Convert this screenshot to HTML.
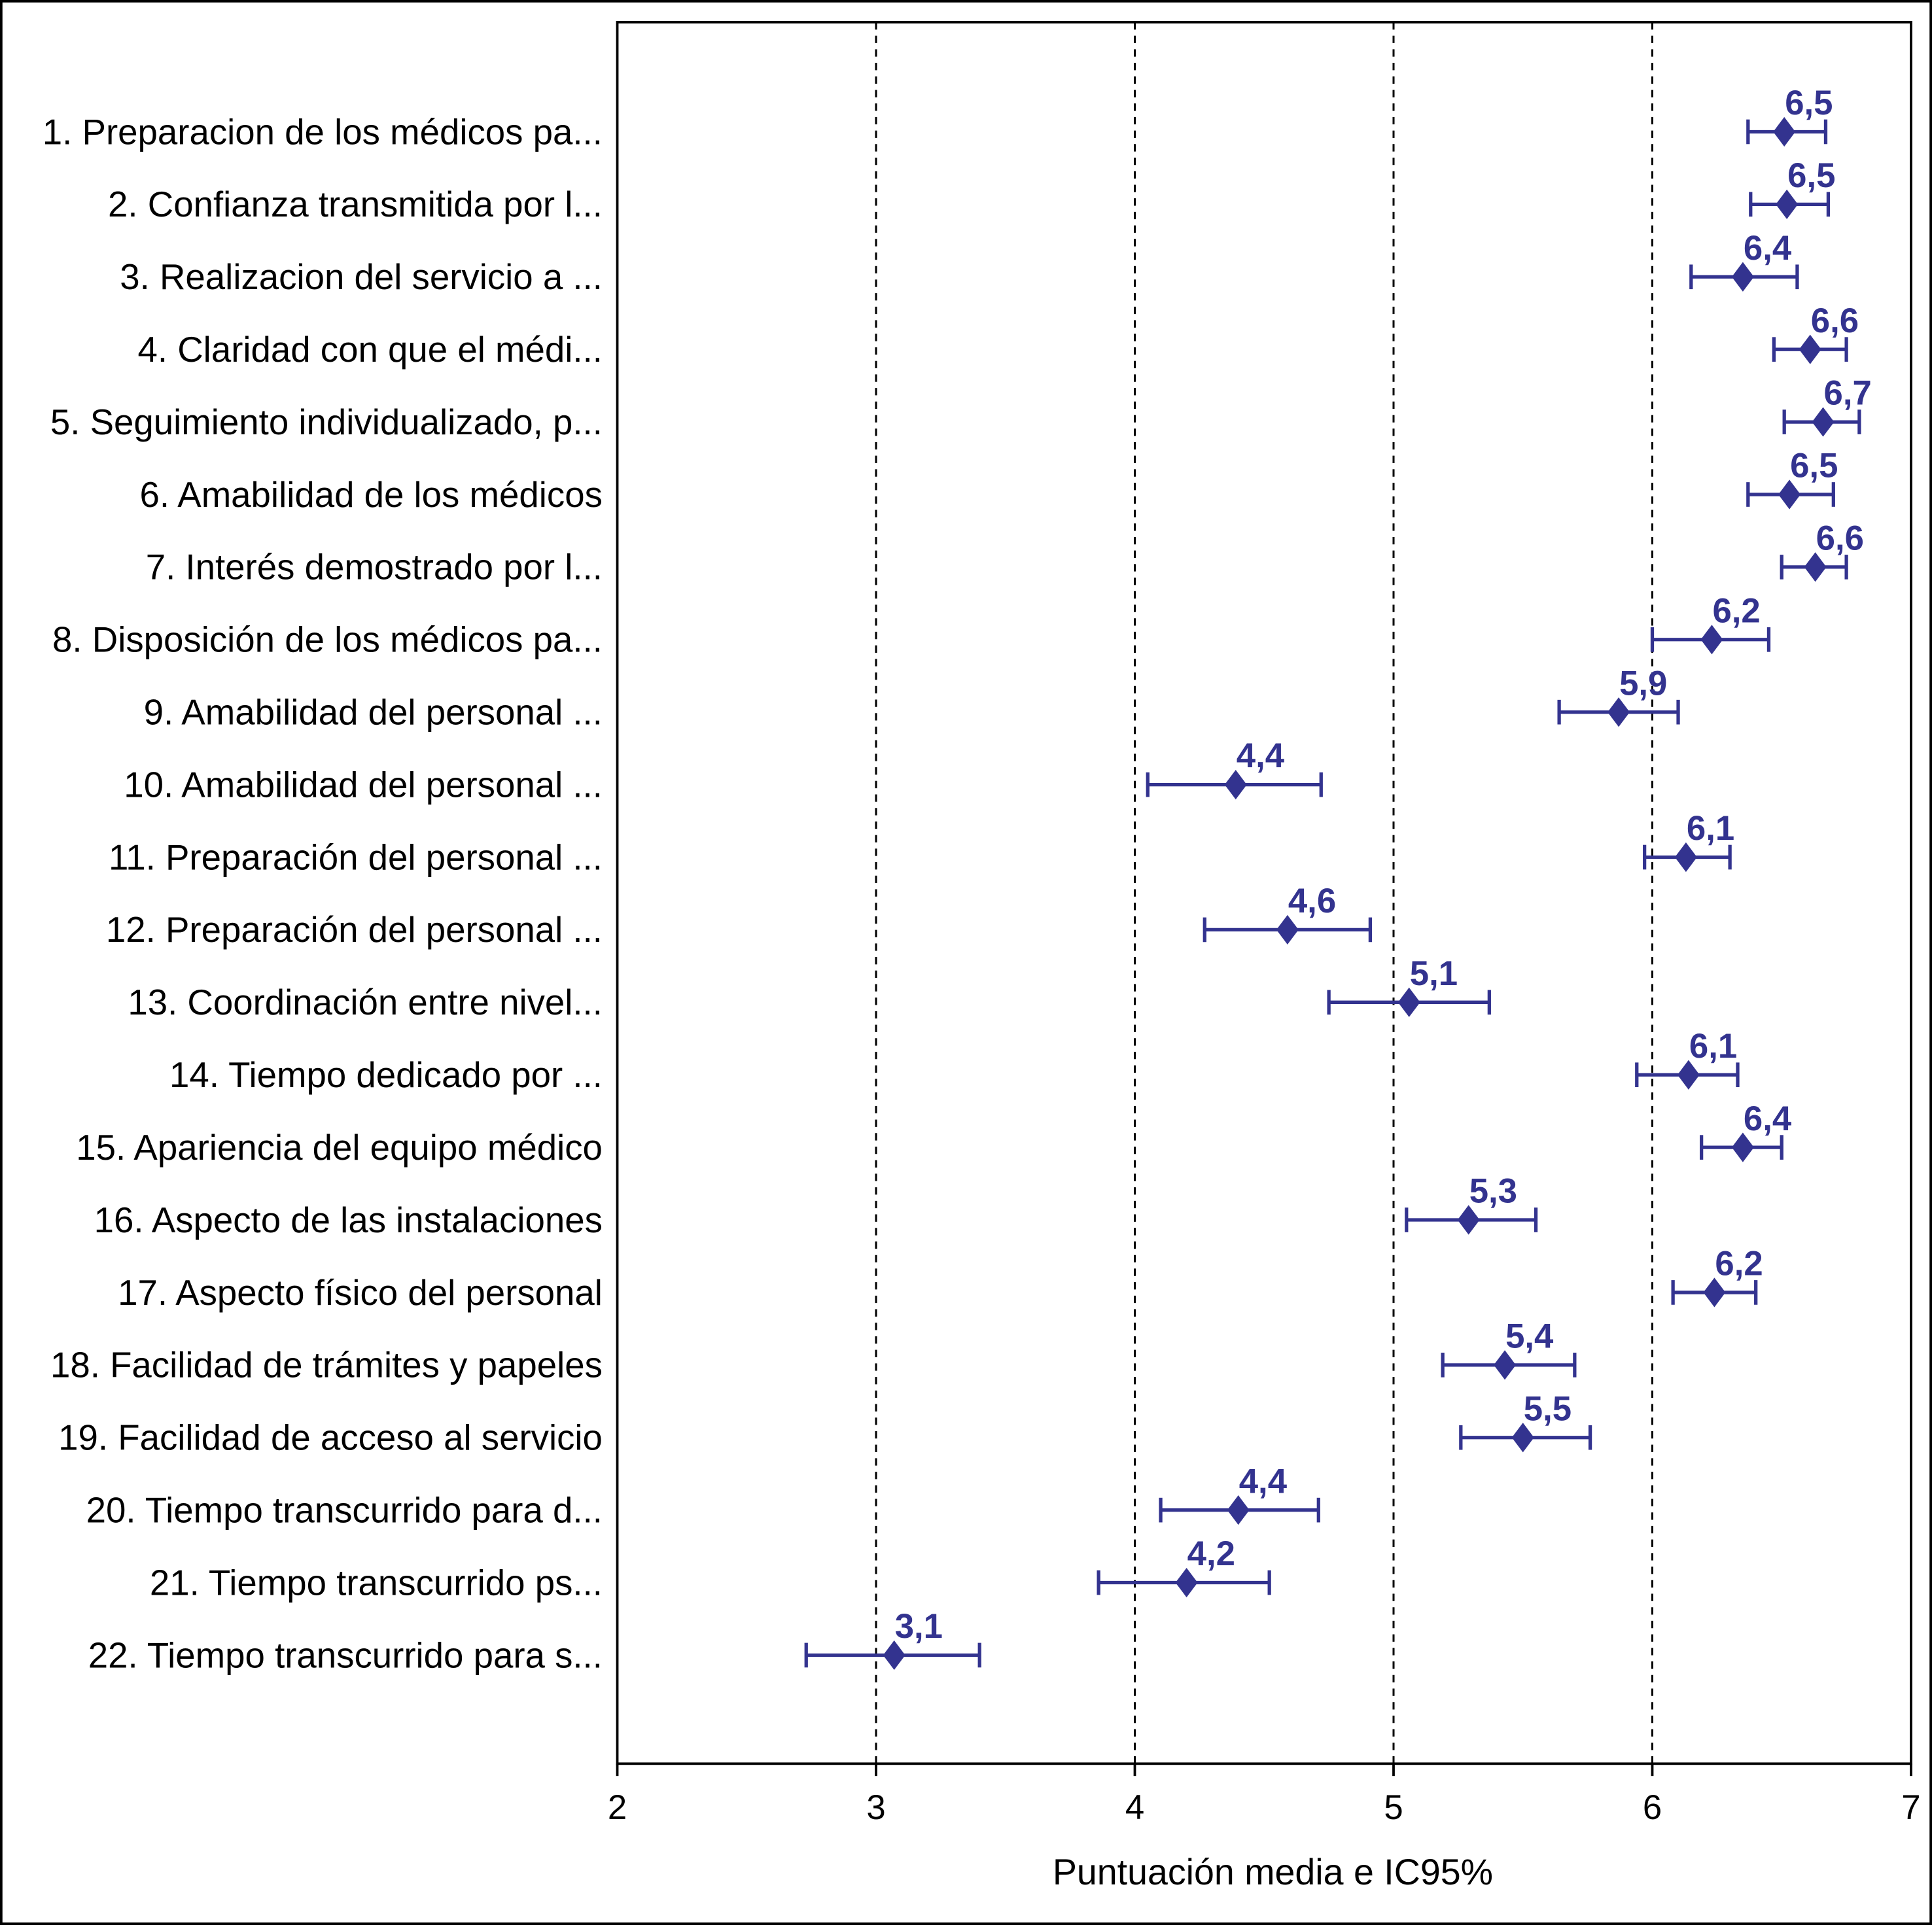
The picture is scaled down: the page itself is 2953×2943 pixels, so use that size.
<!DOCTYPE html>
<html><head><meta charset="utf-8"><style>
html,body{margin:0;padding:0;background:#fff}
svg{display:block}
text{font-family:"Liberation Sans",Arial,sans-serif}
</style></head><body>
<svg id="chart" width="2953" height="2943" viewBox="0 0 1568 1563" preserveAspectRatio="none" xmlns="http://www.w3.org/2000/svg">
<rect x="1" y="1" width="1566" height="1561" fill="#fff" stroke="#000" stroke-width="2"/>
<g id="grid"></g>
<g id="marks"></g>
<g id="labels"></g>
<rect x="501" y="18" width="1050" height="1414" fill="none" stroke="#000" stroke-width="2"/>
<g id="xaxis"></g>
<text x="1033" y="1530" font-size="29.5" text-anchor="middle" fill="#000">Puntuación media e IC95%</text>
</svg>
<script>
const categories=["1. Preparacion de los médicos pa...","2. Confianza transmitida por l...","3. Realizacion del servicio a ...","4. Claridad con que el médi...","5. Seguimiento individualizado, p...","6. Amabilidad de los médicos","7. Interés demostrado por l...","8. Disposición de los médicos pa...","9. Amabilidad del personal ...","10. Amabilidad del personal ...","11. Preparación del personal ...","12. Preparación del personal ...","13. Coordinación entre nivel...","14. Tiempo dedicado por ...","15. Apariencia del equipo médico","16. Aspecto de las instalaciones","17. Aspecto físico del personal","18. Facilidad de trámites y papeles","19. Facilidad de acceso al servicio","20. Tiempo transcurrido para d...","21. Tiempo transcurrido ps...","22. Tiempo transcurrido para s..."];
const means=[6.51,6.52,6.35,6.61,6.66,6.53,6.63,6.23,5.87,4.39,6.13,4.59,5.06,6.14,6.35,5.29,6.24,5.43,5.50,4.40,4.20,3.07];
const lower=[6.37,6.38,6.15,6.47,6.51,6.37,6.50,6.00,5.64,4.05,5.97,4.27,4.75,5.94,6.19,5.05,6.08,5.19,5.26,4.10,3.86,2.73];
const upper=[6.67,6.68,6.56,6.75,6.80,6.70,6.75,6.45,6.10,4.72,6.30,4.91,5.37,6.33,6.50,5.55,6.40,5.70,5.76,4.71,4.52,3.40];
const valueLabels=["6,5","6,5","6,4","6,6","6,7","6,5","6,6","6,2","5,9","4,4","6,1","4,6","5,1","6,1","6,4","5,3","6,2","5,4","5,5","4,4","4,2","3,1"];
const xTicks=[2,3,4,5,6,7];
const gridLines=[3,4,5,6];
const NS="http://www.w3.org/2000/svg";
const xs=v=>501+(v-2)*210;
const ys=i=>107+i*58.9;
const C="#33338f";
function mk(tag,attrs,parent){const e=document.createElementNS(NS,tag);for(const k in attrs)e.setAttribute(k,attrs[k]);parent.appendChild(e);return e;}
const grid=document.getElementById('grid'),marks=document.getElementById('marks'),labels=document.getElementById('labels'),xa=document.getElementById('xaxis');
gridLines.forEach(g=>{const l=mk('line',{x1:xs(g),x2:xs(g),y1:18,y2:1432,stroke:'#000','stroke-width':1.6,'stroke-dasharray':'6,5'},grid);

});
xTicks.forEach(t=>{const l=mk('line',{x1:xs(t),x2:xs(t),y1:1432,y2:1442,stroke:'#000','stroke-width':2},xa);


const tx=mk('text',{x:xs(t),y:1477,'font-size':28,'text-anchor':'middle',fill:'#000'},xa);tx.textContent=t;

});
categories.forEach((c,i)=>{const y=ys(i);
const t=mk('text',{x:489,y:y+10,'font-size':29,'text-anchor':'end',fill:'#000'},labels);t.textContent=c;


const g=mk('g',{},marks);


mk('line',{x1:xs(lower[i]),x2:xs(upper[i]),y1:y,y2:y,stroke:C,'stroke-width':2.8},g);
mk('line',{x1:xs(lower[i]),x2:xs(lower[i]),y1:y-10,y2:y+10,stroke:C,'stroke-width':2.8},g);
mk('line',{x1:xs(upper[i]),x2:xs(upper[i]),y1:y-10,y2:y+10,stroke:C,'stroke-width':2.8},g);
const m=xs(means[i]);
mk('polygon',{points:`${m},${y-12} ${m+9},${y} ${m},${y+12} ${m-9},${y}`,fill:C},g);
const v=mk('text',{x:m+20,y:y-14,'font-size':28,'font-weight':'bold','text-anchor':'middle',fill:C},labels);v.textContent=valueLabels[i];

});
</script>
</body></html>
